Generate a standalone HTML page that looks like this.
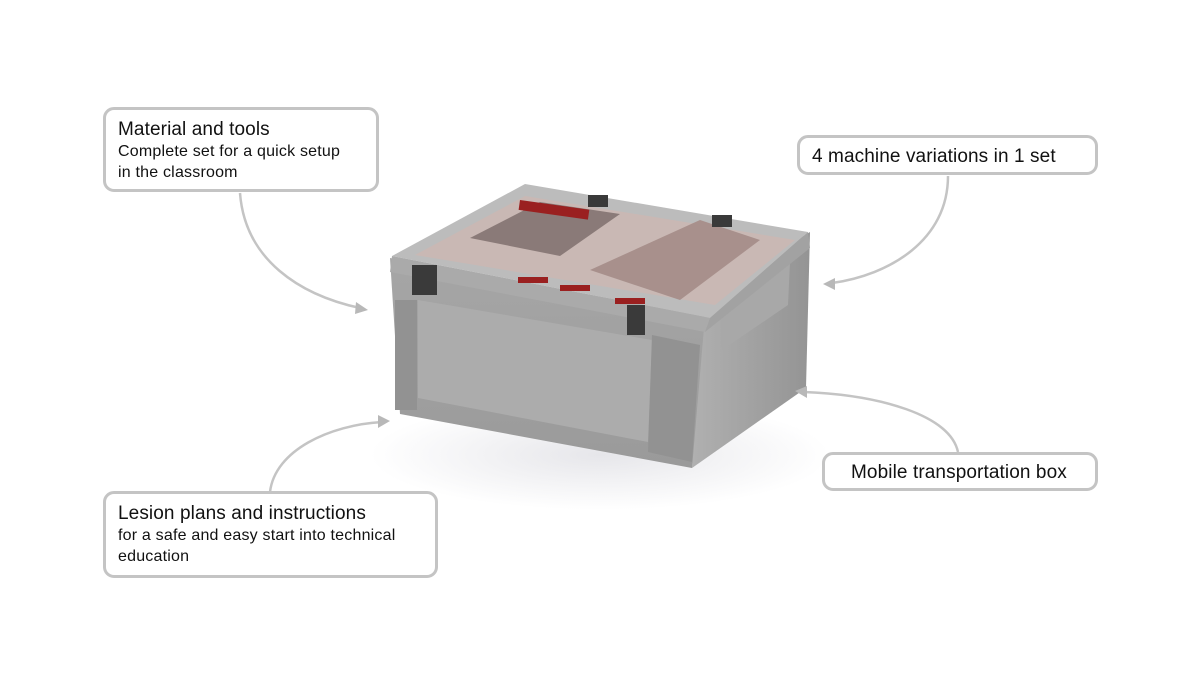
<!DOCTYPE html>
<html><head><style>
body{margin:0;width:1200px;height:675px;background:#fff;font-family:"Liberation Sans",sans-serif;position:relative;overflow:hidden}
.b{position:absolute;border:3px solid #c4c4c4;border-radius:11px;box-sizing:border-box;color:#111;padding:10px 12px}
.t{font-size:19px;line-height:22px;letter-spacing:0.1px}
.s{font-size:16px;line-height:21px;letter-spacing:0.2px}
</style></head><body>
<svg width="1200" height="675" style="position:absolute;left:0;top:0">
<defs>
<linearGradient id="fr" x1="0" y1="0" x2="0" y2="1"><stop offset="0" stop-color="#a6a6a6"/><stop offset="1" stop-color="#9a9a9a"/></linearGradient>
<linearGradient id="sd" x1="0" y1="0" x2="1" y2="0"><stop offset="0" stop-color="#b0b0b0"/><stop offset="1" stop-color="#949494"/></linearGradient>
<radialGradient id="sh" cx="0.5" cy="0.5" r="0.5"><stop offset="0" stop-color="#e6e6ea"/><stop offset="1" stop-color="#fff"/></radialGradient>
</defs>
<ellipse cx="600" cy="455" rx="230" ry="55" fill="url(#sh)"/>
<polygon points="700,300 810,232 806,388 692,468" fill="url(#sd)"/>
<polygon points="390,258 705,316 692,468 400,414" fill="url(#fr)"/>
<polygon points="418,300 652,340 648,442 418,398" fill="#acacac"/>
<rect x="395" y="300" width="22" height="110" fill="#929292"/>
<polygon points="652,335 700,345 692,462 648,452" fill="#929292"/>
<polygon points="720,300 790,262 788,305 722,350" fill="#a8a8a8"/>
<polygon points="392,256 525,184 808,232 710,318" fill="#bcbcbc"/>
<polygon points="392,256 710,318 705,332 390,272" fill="#aaaaaa"/>
<polygon points="710,318 808,232 810,248 705,332" fill="#a2a2a2"/>
<polygon points="415,255 525,196 795,240 715,305" fill="#c9b8b4"/>
<polygon points="470,238 540,202 620,214 560,256" fill="#8a7a78"/>
<polygon points="590,270 700,220 760,240 680,300" fill="#a8908c"/>
<rect x="520" y="200" width="70" height="10" fill="#9a2020" transform="rotate(8 520 200)"/>
<rect x="560" y="285" width="30" height="6" fill="#9a2020"/>
<rect x="615" y="298" width="30" height="6" fill="#9a2020"/>
<rect x="518" y="277" width="30" height="6" fill="#9a2020"/>
<rect x="412" y="265" width="25" height="30" fill="#3a3a3a"/>
<rect x="627" y="305" width="18" height="30" fill="#3a3a3a"/>
<rect x="588" y="195" width="20" height="12" fill="#3a3a3a"/>
<rect x="712" y="215" width="20" height="12" fill="#3a3a3a"/>
<g fill="none" stroke="#c4c4c4" stroke-width="2.5">
<path d="M240,193 C245,260 300,295 360,308"/>
<path d="M948,176 C948,240 890,275 832,283"/>
<path d="M958,452 C950,415 880,395 804,392"/>
<path d="M270,492 C275,450 330,425 382,422"/>
</g>
<g fill="#b8b8b8">
<polygon points="368,310 356,302 355,314"/>
<polygon points="823,284 835,278 835,290"/>
<polygon points="795,391 807,386 807,398"/>
<polygon points="390,421 378,415 378,428"/>
</g>
</svg>
<div class="b" style="left:103px;top:107px;width:276px;height:85px;padding-top:9px"><div class="t">Material and tools</div><div class="s">Complete set for a quick setup<br>in the classroom</div></div>
<div class="b" style="left:797px;top:135px;width:301px;height:40px;padding-top:8px"><div class="t">4 machine variations in 1 set</div></div>
<div class="b" style="left:822px;top:452px;width:276px;height:39px;padding:7px 0 0 26px"><div class="t">Mobile transportation box</div></div>
<div class="b" style="left:103px;top:491px;width:335px;height:87px;padding-top:9px"><div class="t">Lesion plans and instructions</div><div class="s">for a safe and easy start into technical<br>education</div></div>
</body></html>
